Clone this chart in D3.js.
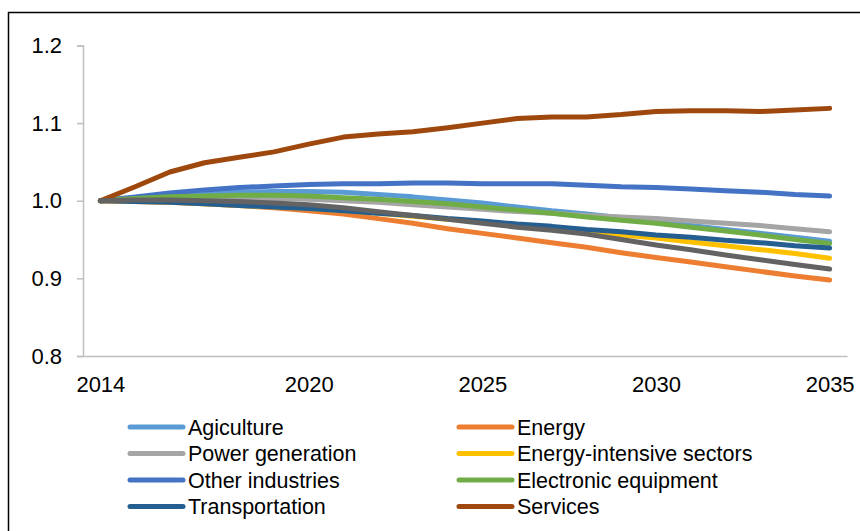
<!DOCTYPE html>
<html>
<head>
<meta charset="utf-8">
<script src="https://cdnjs.cloudflare.com/ajax/libs/d3/7.8.5/d3.min.js"></script>
<style>
  body { margin: 0; background: #fff; }
  svg { display: block; font-family: "Liberation Sans", Arial, sans-serif; }
</style>
</head>
<body>
<svg id="canvas" width="860" height="531"></svg>
<script>
let years = d3.range(2014, 2036)
let tickYears = [2014, 2020, 2025, 2030, 2035]
let yTicks = [0.8, 0.9, 1.0, 1.1, 1.2]

let agriculture = [1.000, 1.004, 1.008, 1.010, 1.011, 1.012, 1.012, 1.011, 1.008, 1.005, 1.001, 0.997, 0.992, 0.987, 0.983, 0.978, 0.973, 0.968, 0.963, 0.958, 0.953, 0.948]
let energy = [1.000, 0.999, 0.998, 0.996, 0.994, 0.991, 0.987, 0.983, 0.977, 0.971, 0.964, 0.958, 0.952, 0.946, 0.940, 0.933, 0.927, 0.921, 0.915, 0.909, 0.903, 0.898]
let powerGeneration = [1.000, 1.002, 1.003, 1.004, 1.004, 1.003, 1.002, 1.000, 0.998, 0.995, 0.992, 0.989, 0.986, 0.984, 0.981, 0.979, 0.977, 0.974, 0.971, 0.968, 0.964, 0.960]
let energyIntensive = [1.000, 0.999, 0.998, 0.996, 0.994, 0.992, 0.990, 0.987, 0.984, 0.980, 0.976, 0.973, 0.969, 0.965, 0.961, 0.956, 0.952, 0.947, 0.942, 0.937, 0.932, 0.926]
let otherIndustries = [1.000, 1.005, 1.010, 1.014, 1.017, 1.019, 1.021, 1.022, 1.022, 1.023, 1.023, 1.022, 1.022, 1.022, 1.020, 1.018, 1.017, 1.015, 1.013, 1.011, 1.008, 1.006]
let electronic = [1.000, 1.003, 1.005, 1.006, 1.007, 1.007, 1.006, 1.004, 1.002, 0.999, 0.996, 0.992, 0.988, 0.984, 0.979, 0.975, 0.971, 0.966, 0.961, 0.956, 0.950, 0.945]
let transportation = [1.000, 0.999, 0.998, 0.996, 0.994, 0.992, 0.990, 0.987, 0.984, 0.981, 0.977, 0.974, 0.970, 0.967, 0.963, 0.960, 0.956, 0.953, 0.949, 0.946, 0.942, 0.939]
let services = [1.000, 1.018, 1.037, 1.049, 1.056, 1.063, 1.073, 1.082, 1.086, 1.089, 1.094, 1.100, 1.106, 1.108, 1.108, 1.111, 1.115, 1.116, 1.116, 1.115, 1.117, 1.119]
let others = [1.000, 1.001, 1.001, 1.000, 0.999, 0.997, 0.995, 0.991, 0.986, 0.981, 0.976, 0.971, 0.966, 0.962, 0.957, 0.950, 0.943, 0.937, 0.930, 0.924, 0.918, 0.912]

let series = [
    {name: 'Agiculture', values: agriculture, color: '#5B9BD5', legend: true},
    {name: 'Energy', values: energy, color: '#ED7D31', legend: true},
    {name: 'Power generation', values: powerGeneration, color: '#A5A5A5', legend: true},
    {name: 'Energy-intensive sectors', values: energyIntensive, color: '#FFC000', legend: true},
    {name: 'Other industries', values: otherIndustries, color: '#4472C4', legend: true},
    {name: 'Electronic equipment', values: electronic, color: '#70AD47', legend: true},
    {name: 'Transportation', values: transportation, color: '#255E91', legend: true},
    {name: 'Services', values: services, color: '#9E480E', legend: true},
    {name: 'Others', values: others, color: '#636363', legend: false}
]

let svg = d3.select('#canvas')

// outer chart frame
svg.append('rect')
    .attr('x', 8.5).attr('y', 12.5)
    .attr('width', 900).attr('height', 600)
    .attr('fill', 'none').attr('stroke', '#000').attr('stroke-width', 1.5)

let xScale = d3.scalePoint()
    .domain(years)
    .range([83, 847])
    .padding(0.5)

let yScale = d3.scaleLinear()
    .domain([0.8, 1.2])
    .range([356, 45.5])

// y axis
let yAxis = d3.axisLeft(yScale)
    .tickValues(yTicks)
    .tickSize(6)
    .tickPadding(15)
    .tickFormat(d3.format('.1f'))

let yG = svg.append('g')
    .attr('transform', 'translate(83,0)')
    .call(yAxis)
yG.select('.domain').attr('stroke', '#BFBFBF').attr('stroke-width', 1.5)
yG.selectAll('.tick line').attr('stroke', '#BFBFBF').attr('stroke-width', 1.5)
yG.selectAll('.tick text')
    .attr('fill', '#000')
    .style('font-size', '22px')
    .attr('font-family', '"Liberation Sans", Arial, sans-serif')

// x axis
let xAxis = d3.axisBottom(xScale)
    .tickValues(tickYears)
    .tickSize(0)
    .tickPadding(20)
    .tickFormat(d3.format('d'))

let xG = svg.append('g')
    .attr('transform', 'translate(0,356)')
    .call(xAxis)
xG.select('.domain').attr('stroke', '#BFBFBF').attr('stroke-width', 1.5)
xG.selectAll('.tick text')
    .attr('fill', '#000')
    .style('font-size', '22px')
    .attr('font-family', '"Liberation Sans", Arial, sans-serif')

// lines
let line = d3.line()
    .x((d, i) => xScale(years[i]))
    .y((d) => yScale(d))

svg.append('g')
    .selectAll('path')
    .data(series)
    .enter()
    .append('path')
    .attr('d', (d) => line(d.values))
    .attr('fill', 'none')
    .attr('stroke', (d) => d.color)
    .attr('stroke-width', 5)
    .attr('stroke-linecap', 'round')
    .attr('stroke-linejoin', 'round')

// legend
let legendItems = series.filter((d) => d.legend)
let legend = svg.append('g')
    .selectAll('g')
    .data(legendItems)
    .enter()
    .append('g')
    .attr('transform', (d, i) => {
        let col = i % 2
        let row = Math.floor(i / 2)
        return 'translate(' + (col === 0 ? 130 : 459) + ',' + (427 + row * 26.5) + ')'
    })

legend.append('line')
    .attr('x1', 0).attr('x2', 53)
    .attr('y1', 0).attr('y2', 0)
    .attr('stroke', (d) => d.color)
    .attr('stroke-width', 5)
    .attr('stroke-linecap', 'round')

legend.append('text')
    .attr('x', 58)
    .attr('y', 0)
    .attr('dy', '0.36em')
    .style('font-size', '21.5px')
    .attr('fill', '#000')
    .text((d) => d.name)
</script>
</body>
</html>
